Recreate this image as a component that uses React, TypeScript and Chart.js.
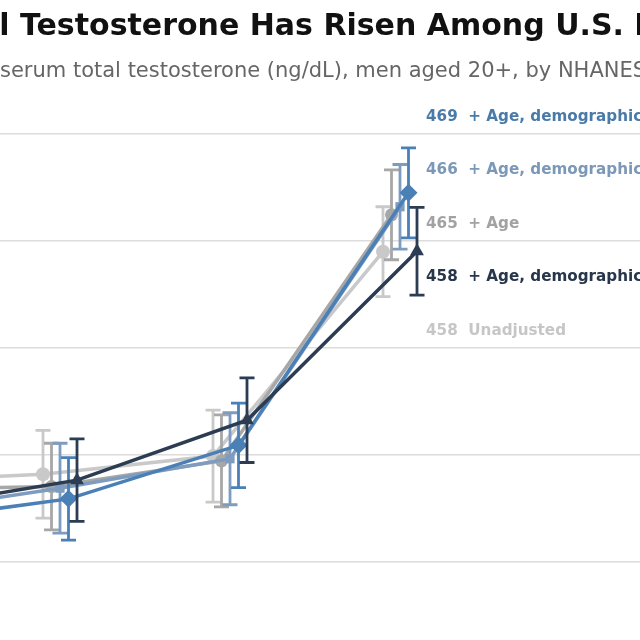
import React, { useEffect, useRef } from "react";
import { Chart, registerables } from "chart.js";

Chart.register(...registerables);

// NHANES cycles (x categories; axis labels fall outside the visible crop)
const cycles = ["2011–2012", "2013–2014", "2015–2016", "2017–2018"];

// Series names (model adjustment)
const seriesNames = [
  "Unadjusted",
  "+ Age",
  "+ Age, demographics",
  "+ Age, demographics, lifestyle",
  "+ Age, demographics, lifestyle, health",
];

// Mean serum total testosterone (ng/dL)
const unadjMean = [415.0, 416.4, 419.8, 458.0];
const ageMean = [413.5, 414.1, 418.9, 464.9];
const demoMean = [409.0, 413.8, 419.3, 466.4];
const lifeMean = [407.5, 411.8, 421.8, 469.0];
const fullMean = [410.0, 415.3, 426.5, 458.1];

// 95% CI half-widths (ng/dL)
const unadjErr = [8.0, 8.2, 8.6, 8.4];
const ageErr = [8.0, 8.1, 8.6, 8.4];
const demoErr = [8.0, 8.4, 8.6, 7.9];
const lifeErr = [8.0, 7.7, 7.9, 8.4];
const fullErr = [8.0, 7.7, 7.9, 8.2];

// y tick values (gridlines)
const yTicks = [400, 420, 440, 460, 480];

const TITLE = "Total Testosterone Has Risen Among U.S. Men";
const SUBTITLE = "Mean serum total testosterone (ng/dL), men aged 20+, by NHANES cycle";

const colors = ["#c9c9c9", "#a7a7a7", "#7d9cc0", "#4a80b6", "#2b3c53"];
const labelColors = ["#c6c6c6", "#a2a2a2", "#7b98b8", "#4a7ba8", "#27364a"];
const markers = ["circle", "circle", "rect", "rectRot", "triangle"];
const markerRadius = [7, 6.5, 6.5, 9, 8];
const drawOrder = [5, 4, 3, 2, 1];
const dodge = [-2, -1, 0, 1, 2];

const means = [unadjMean, ageMean, demoMean, lifeMean, fullMean];
const errs = [unadjErr, ageErr, demoErr, lifeErr, fullErr];

const errorBarPlugin = {
  id: "errorBars",
  beforeDatasetDraw(chart: any, args: any) {
    const i = args.index;
    const meta = args.meta;
    const y = chart.scales.y;
    const ctx = chart.ctx;
    ctx.save();
    ctx.strokeStyle = colors[i];
    ctx.lineWidth = 2.8;
    ctx.lineCap = "butt";
    meta.data.forEach((pt: any, j: number) => {
      const m = means[i][j];
      const e = errs[i][j];
      const x = pt.x;
      const yt = y.getPixelForValue(m + e);
      const yb = y.getPixelForValue(m - e);
      ctx.beginPath();
      ctx.moveTo(x, yt);
      ctx.lineTo(x, yb);
      ctx.moveTo(x - 7.5, yt);
      ctx.lineTo(x + 7.5, yt);
      ctx.moveTo(x - 7.5, yb);
      ctx.lineTo(x + 7.5, yb);
      ctx.stroke();
    });
    ctx.restore();
  },
};

const textPlugin = {
  id: "texts",
  afterDatasetsDraw(chart: any) {
    const ctx = chart.ctx;
    const xs = chart.scales.x;
    const ys = chart.scales.y;
    ctx.save();
    // Title
    ctx.textBaseline = "middle";
    ctx.textAlign = "left";
    ctx.fillStyle = "#111111";
    ctx.font = 'bold 30px "DejaVu Sans"';
    const tx = 20 - ctx.measureText("Total ").width;
    ctx.fillText(TITLE, tx, 27);
    // Subtitle
    ctx.fillStyle = "#666666";
    ctx.font = '21px "DejaVu Sans"';
    const sx = 0 - ctx.measureText("Mean ").width;
    ctx.fillText(SUBTITLE, sx, 72);
    // End labels, sorted by final value
    const last = cycles.length - 1;
    const orderIdx = [0, 1, 2, 3, 4].sort(
      (a, b) => means[b][last] - means[a][last] || b - a
    );
    const lx = xs.getPixelForValue(last) + 26;
    const topVal = Math.max(...orderIdx.map((k) => means[k][last])) + 14.2;
    ctx.font = 'bold 15.2px "DejaVu Sans"';
    orderIdx.forEach((k, r) => {
      const ly = ys.getPixelForValue(topVal - 10 * r);
      ctx.fillStyle = labelColors[k];
      ctx.fillText(`${Math.round(means[k][last])}  ${seriesNames[k]}`, lx, ly);
    });
    ctx.restore();
  },
};

export default function App() {
  const ref = useRef<HTMLCanvasElement | null>(null);

  useEffect(() => {
    if (!ref.current) return;
    const datasets = means.map((arr, i) => ({
      label: seriesNames[i],
      data: arr.map((v, j) => ({ x: j + dodge[i] * 0.05, y: v })),
      borderColor: colors[i],
      backgroundColor: colors[i],
      borderWidth: 3.5,
      pointStyle: markers[i],
      pointRadius: markerRadius[i],
      pointBorderWidth: 0,
      pointBackgroundColor: colors[i],
      order: drawOrder[i],
      tension: 0,
      clip: false,
    }));
    const chart = new Chart(ref.current, {
      type: "line",
      data: { datasets },
      options: {
        animation: false,
        responsive: true,
        maintainAspectRatio: false,
        layout: { autoPadding: false, padding: { top: 107.25, bottom: 24.5, left: 0, right: 0 } },
        plugins: { legend: { display: false }, tooltip: { enabled: false }, title: { display: false } },
        scales: {
          x: {
            type: "linear",
            display: false,
            min: 1 - 60 / 170,
            max: 1 - 60 / 170 + 640 / 170,
          },
          y: {
            type: "linear",
            min: 390,
            max: 485,
            border: { display: false },
            ticks: { display: false },
            grid: { color: "#dcdcdc", lineWidth: 1.6, drawTicks: false },
            afterBuildTicks: (scale: any) => {
              scale.ticks = yTicks.map((v) => ({ value: v }));
            },
            afterFit: (scale: any) => {
              scale.width = 0;
            },
          },
        },
      },
      plugins: [errorBarPlugin, textPlugin],
    } as any);
    return () => chart.destroy();
  }, []);

  return (
    <div style={{ position: "fixed", left: 0, top: 0, width: 640, height: 640, background: "#ffffff" }}>
      <canvas ref={ref} />
    </div>
  );
}
